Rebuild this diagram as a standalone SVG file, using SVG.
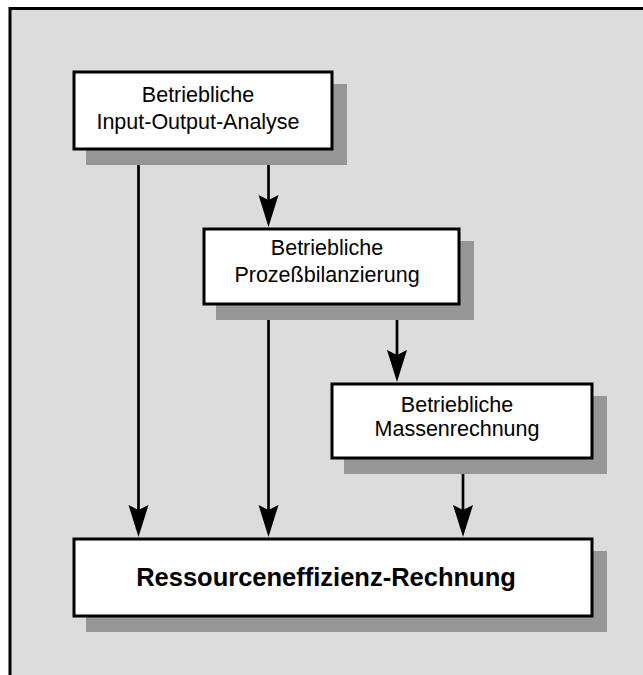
<svg xmlns="http://www.w3.org/2000/svg" width="643" height="675" viewBox="0 0 643 675">
  <style>
    .frame { fill: #dcdcdc; stroke: #000; stroke-width: 3; }
    .shadow { fill: #969696; }
    .box { fill: #fff; stroke: #000; stroke-width: 3; }
    .lbl { font-family: "Liberation Sans", Arial, Helvetica, sans-serif; font-size: 21.5px; fill: #000; text-anchor: middle; }
    .bold { font-size: 25.5px; font-weight: bold; }
    .conn { stroke: #000; stroke-width: 2.7; fill: none; marker-end: url(#arr); }
  </style>
  <defs>
    <marker id="arr" markerUnits="userSpaceOnUse" markerWidth="34" markerHeight="22" viewBox="0 -11 34 22" refX="5" refY="0" orient="auto">
      <path d="M32,0 L0,-10 L5,0 L0,10 Z" fill="#000"/>
    </marker>
  </defs>
  <rect width="643" height="675" fill="#fff"/>
  <rect class="frame" x="10" y="8.5" width="660" height="700"/>

  <g id="connectors">
    <line class="conn" x1="138.5" y1="150" x2="138.5" y2="510"/>
    <line class="conn" x1="268.5" y1="150" x2="268.5" y2="200"/>
    <line class="conn" x1="268.5" y1="305" x2="268.5" y2="510"/>
    <line class="conn" x1="397" y1="305" x2="397" y2="355"/>
    <line class="conn" x1="463" y1="459" x2="463" y2="510"/>
  </g>

  <g id="node1">
    <rect class="shadow" x="86" y="84" width="261" height="81"/>
    <rect class="box" x="74" y="72" width="258" height="77"/>
    <text class="lbl" x="198" y="102">Betriebliche</text>
    <text class="lbl" x="198" y="128.5">Input-Output-Analyse</text>
  </g>

  <g id="node2">
    <rect class="shadow" x="216" y="241" width="258" height="79"/>
    <rect class="box" x="204" y="229" width="255" height="75"/>
    <text class="lbl" x="327" y="255">Betriebliche</text>
    <text class="lbl" x="327" y="281.5">Prozeßbilanzierung</text>
  </g>

  <g id="node3">
    <rect class="shadow" x="344" y="396" width="263" height="78"/>
    <rect class="box" x="332" y="384" width="260" height="74"/>
    <text class="lbl" x="457" y="411.5">Betriebliche</text>
    <text class="lbl" x="457" y="436">Massenrechnung</text>
  </g>

  <g id="node4">
    <rect class="shadow" x="86" y="551" width="521" height="81"/>
    <rect class="box" x="74" y="539" width="518" height="77"/>
    <text class="lbl bold" x="326" y="586">Ressourceneffizienz-Rechnung</text>
  </g>
</svg>
